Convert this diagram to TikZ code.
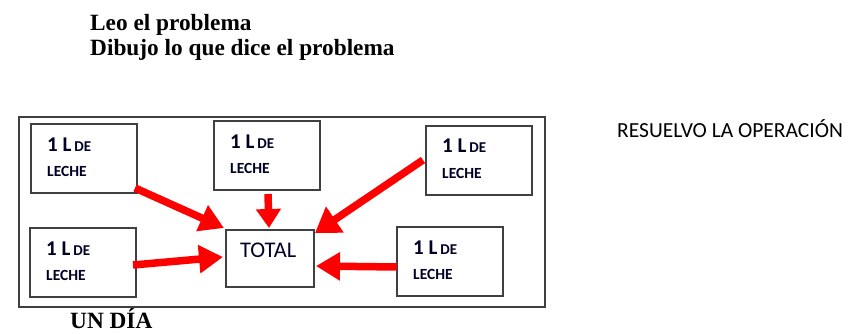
\documentclass[tikz,border=0pt]{standalone}
\usepackage{fontspec}
\setmainfont{Liberation Serif}
\newfontfamily\calfnt{Carlito}
\usetikzlibrary{arrows.meta}
\begin{document}
\begin{tikzpicture}[x=1pt,y=-1pt,
  box/.style={draw=black!75,line width=1.3pt,inner sep=0pt},
  lbl/.style={anchor=base west,inner sep=0pt,text=black!85!blue},
  arr/.style={draw=red,line width=7.5pt,-{Triangle[length=24pt,width=27pt]}},
  ttl/.style={anchor=base west,inner sep=0pt,font=\bfseries\fontsize{23.3}{26}\selectfont}]
\useasboundingbox (0,0) rectangle (848,334);
\node[ttl] (t1) at (90,31) {Leo el problema};
\node[ttl] (t2) at (90,56) {Dibujo lo que dice el problema};
\node[anchor=base west,inner sep=0pt,font=\calfnt\fontsize{21.5}{24}\selectfont] (op) at (617,138) {RESUELVO LA OPERACIÓN};
\draw[box] (19,117) rectangle (545,307);
\node[ttl] (dia) at (70,328) {UN DÍA};
% boxes
\foreach \n/\x/\y in {b1/31/124, b2/214/121, b3/426/126, b4/30/228, b5/397/227}{
  \draw[box] (\x,\y) rectangle ++(106,69);
  \coordinate (\n) at (\x,\y);
  \node[lbl,font=\calfnt\bfseries\fontsize{21}{22}\selectfont] at ([shift={(16,27)}]\n) {1 L\fontsize{15}{16}\selectfont\hspace{3pt}DE};
  \node[lbl,font=\calfnt\bfseries\fontsize{15.5}{16}\selectfont] at ([shift={(16,52)}]\n) {LECHE};
}
\draw[box] (226,230) rectangle (314,287);
\coordinate (tot) at (226,230);
\node[lbl,font=\calfnt\fontsize{22.4}{24}\selectfont] at ([shift={(14,27)}]tot) {TOTAL};
% arrows
\coordinate (a1s) at (135,188); \coordinate (a1e) at (224,228);
\coordinate (a2s) at (268,194); \coordinate (a2e) at (269,228);
\coordinate (a3s) at (423,160); \coordinate (a3e) at (315,233);
\coordinate (a4s) at (133,265); \coordinate (a4e) at (223,257);
\coordinate (a5s) at (397,267); \coordinate (a5e) at (316,266);
\draw[arr] (a1s) -- (a1e);
\draw[arr,-{Triangle[length=19pt,width=24pt]}] (a2s) -- (a2e);
\draw[arr,-{Triangle[length=24pt,width=30pt]}] (a3s) -- (a3e);
\draw[arr] (a4s) -- (a4e);
\draw[arr] (a5s) -- (a5e);
\end{tikzpicture}
\end{document}
